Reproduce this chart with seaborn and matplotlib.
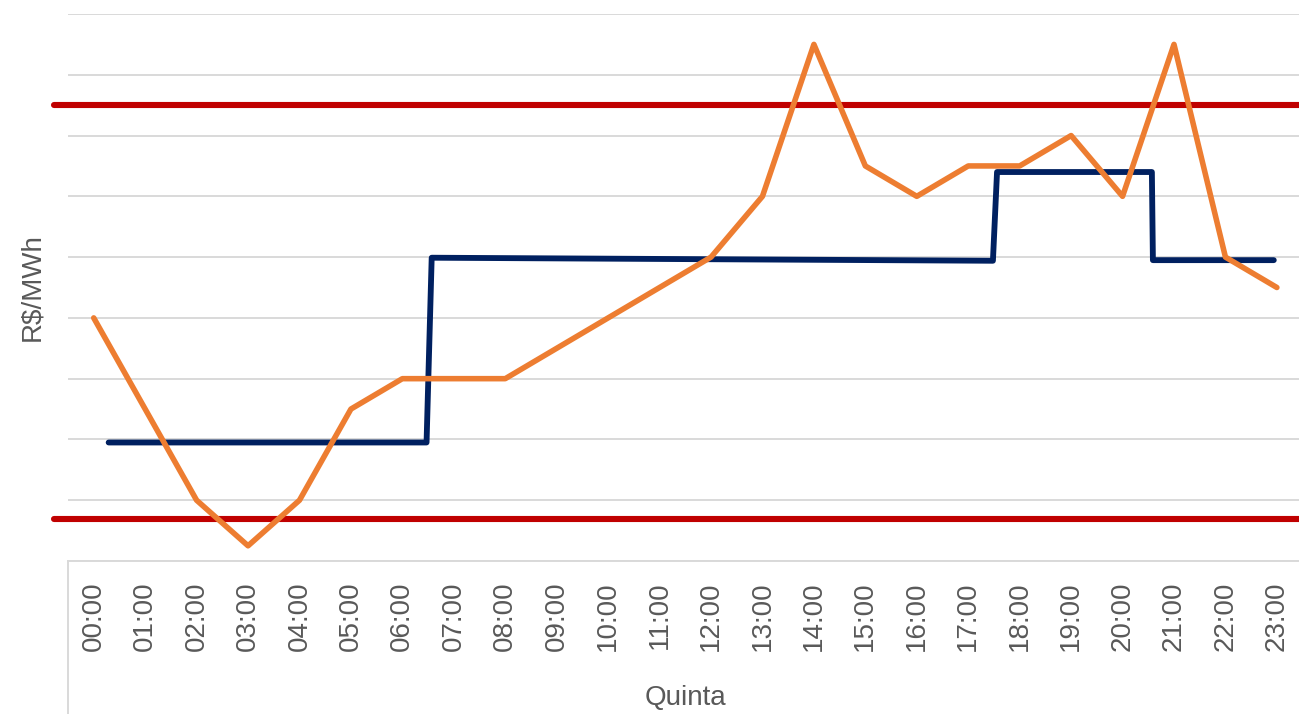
import matplotlib
matplotlib.use("Agg")
import matplotlib.pyplot as plt
import seaborn as sns
import pandas as pd
import numpy as np
from matplotlib.lines import Line2D

# dados (unidades = divisões da grade, sem rótulos no eixo Y)
hours = [f"{h:02d}:00" for h in range(24)]
price = [4.0, 2.5, 1.0, 0.25, 1.0, 2.5, 3.0, 3.0, 3.0, 3.5, 4.0, 4.5,
         5.0, 6.0, 8.5, 6.5, 6.0, 6.5, 6.5, 7.0, 6.0, 8.5, 5.0, 4.5]
step_x = [0.29, 6.47, 6.57, 17.48, 17.56, 20.57, 20.59, 22.94]
step_y = [1.95, 1.95, 4.99, 4.94, 6.40, 6.40, 4.95, 4.95]
limit_max = 7.5
limit_min = 0.69

sns.set_theme(style="white")
plt.rcParams['font.family'] = ['Liberation Sans', 'DejaVu Sans']

df = pd.DataFrame({"pos": np.arange(len(hours)), "price": price})
df_step = pd.DataFrame({"x": step_x, "y": step_y})

fig = plt.figure(figsize=(12.99, 7.14), dpi=100)
ax = fig.add_axes([68 / 1299, 153 / 714, 1234.6 / 1299, 547 / 714])

ax.set_xlim(-0.5, 23.5)
ax.set_ylim(0, 9)
ax.set_yticks(range(0, 10))
ax.yaxis.grid(True, color="#d9d9d9", linewidth=1.4)
ax.set_axisbelow(True)

# limites (vermelho), estendidos um pouco à esquerda
for lv in [limit_max, limit_min]:
    ax.axhline(lv, xmin=-14 / 1234.6, xmax=1, color="#C00000", linewidth=4.4,
               clip_on=False, zorder=2)

sns.lineplot(data=df_step, x="x", y="y", sort=False, ax=ax, color="#002060",
             linewidth=4.2, estimator=None, zorder=3)
sns.lineplot(data=df, x="pos", y="price", ax=ax, color="#ED7D31",
             linewidth=4.0, estimator=None, zorder=4)

for s in ["left", "top", "right"]:
    ax.spines[s].set_visible(False)
ax.spines["bottom"].set_color("#d9d9d9")
ax.spines["bottom"].set_linewidth(1.4)

ax.set_xticks(range(len(hours)))
ax.set_xticklabels(hours, rotation=90, fontsize=20, color="#595959")
ax.tick_params(axis="x", length=0, pad=15)
ax.set_yticklabels([])
ax.tick_params(axis="y", length=0)

ax.set_xlabel("Quinta", fontsize=20, color="#595959", labelpad=24)
ax.set_ylabel("R$/MWh", fontsize=20, color="#595959", labelpad=13)

# separador vertical da área de categorias
ax.add_line(Line2D([0, 0], [0, -0.3], transform=ax.transAxes, color="#d9d9d9",
                   linewidth=1.4, clip_on=False))

fig.savefig("out.png", dpi=100)
plt.close()
